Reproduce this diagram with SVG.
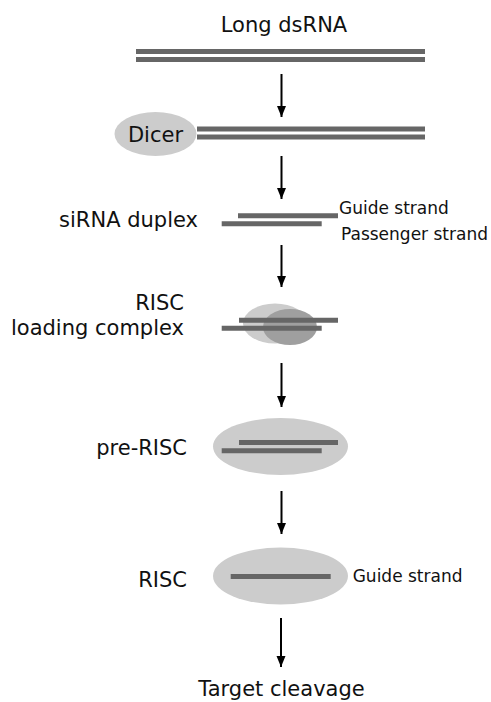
<svg xmlns="http://www.w3.org/2000/svg" width="491" height="702" viewBox="0 0 491 702">
  <style>
    text { font-family: "DejaVu Sans", Verdana, sans-serif; fill: #111; }
    .lbl { font-size: 21px; }
    .sm { font-size: 17px; }
    .strand { stroke: #666666; stroke-width: 5; fill: none; }
    .prot { fill: #cccccc; }
    .prot2 { fill: #9f9f9f; }
    .arrow { stroke: #000; stroke-width: 2; fill: none; marker-end: url(#head); }
  </style>
  <defs>
    <marker id="head" markerUnits="userSpaceOnUse" markerWidth="12" markerHeight="10" refX="11" refY="5" orient="auto">
      <path d="M0,0.5 L11,5 L0,9.5 Z" fill="#000"/>
    </marker>
  </defs>

  <!-- Long dsRNA -->
  <g id="long-dsrna">
    <text class="lbl" x="284" y="32" text-anchor="middle">Long dsRNA</text>
    <line class="strand" x1="136" y1="51.5" x2="425" y2="51.5"/>
    <line class="strand" x1="136" y1="59.5" x2="425" y2="59.5"/>
  </g>

  <!-- Dicer cutting -->
  <g id="dicer">
    <ellipse class="prot" cx="155.5" cy="134" rx="41" ry="22"/>
    <text class="lbl" x="155.5" y="142" text-anchor="middle">Dicer</text>
    <line class="strand" x1="197" y1="129" x2="425" y2="129"/>
    <line class="strand" x1="197" y1="137" x2="425" y2="137"/>
  </g>

  <!-- siRNA duplex -->
  <g id="sirna-duplex">
    <text class="lbl" x="198" y="227" text-anchor="end">siRNA duplex</text>
    <line class="strand" x1="238" y1="215.8" x2="338" y2="215.8"/>
    <line class="strand" x1="221.7" y1="223.7" x2="321.7" y2="223.7"/>
    <text class="sm" x="339" y="213.5">Guide strand</text>
    <text class="sm" x="341" y="240">Passenger strand</text>
  </g>

  <!-- RISC loading complex -->
  <g id="risc-loading">
    <text class="lbl" x="184" y="310" text-anchor="end">RISC</text>
    <text class="lbl" x="184" y="335" text-anchor="end">loading complex</text>
    <ellipse class="prot" cx="275" cy="323.5" rx="32" ry="20"/>
    <ellipse class="prot2" cx="290" cy="327" rx="27" ry="18"/>
    <line class="strand" x1="239" y1="320.2" x2="338" y2="320.2"/>
    <line class="strand" x1="221.7" y1="328.2" x2="321.7" y2="328.2"/>
  </g>

  <!-- pre-RISC -->
  <g id="pre-risc">
    <text class="lbl" x="187" y="455" text-anchor="end">pre-RISC</text>
    <ellipse class="prot" cx="280.5" cy="446.5" rx="67.5" ry="28.5"/>
    <line class="strand" x1="239" y1="442.5" x2="338" y2="442.5"/>
    <line class="strand" x1="221.7" y1="450.8" x2="321.7" y2="450.8"/>
  </g>

  <!-- RISC -->
  <g id="risc">
    <text class="lbl" x="187" y="587" text-anchor="end">RISC</text>
    <ellipse class="prot" cx="280.5" cy="576" rx="67.5" ry="28.5"/>
    <line class="strand" x1="230.7" y1="576.5" x2="330.7" y2="576.5"/>
    <text class="sm" x="352.7" y="582">Guide strand</text>
  </g>

  <!-- Target cleavage -->
  <g id="target-cleavage">
    <text class="lbl" x="281.5" y="696" text-anchor="middle">Target cleavage</text>
  </g>

  <!-- step arrows -->
  <g id="connectors">
    <line class="arrow" x1="281.5" y1="74" x2="281.5" y2="117"/>
    <line class="arrow" x1="281.5" y1="156" x2="281.5" y2="199"/>
    <line class="arrow" x1="281.5" y1="245" x2="281.5" y2="287"/>
    <line class="arrow" x1="281.5" y1="363" x2="281.5" y2="407"/>
    <line class="arrow" x1="281.5" y1="491" x2="281.5" y2="534"/>
    <line class="arrow" x1="281" y1="618" x2="281" y2="667"/>
  </g>
</svg>
